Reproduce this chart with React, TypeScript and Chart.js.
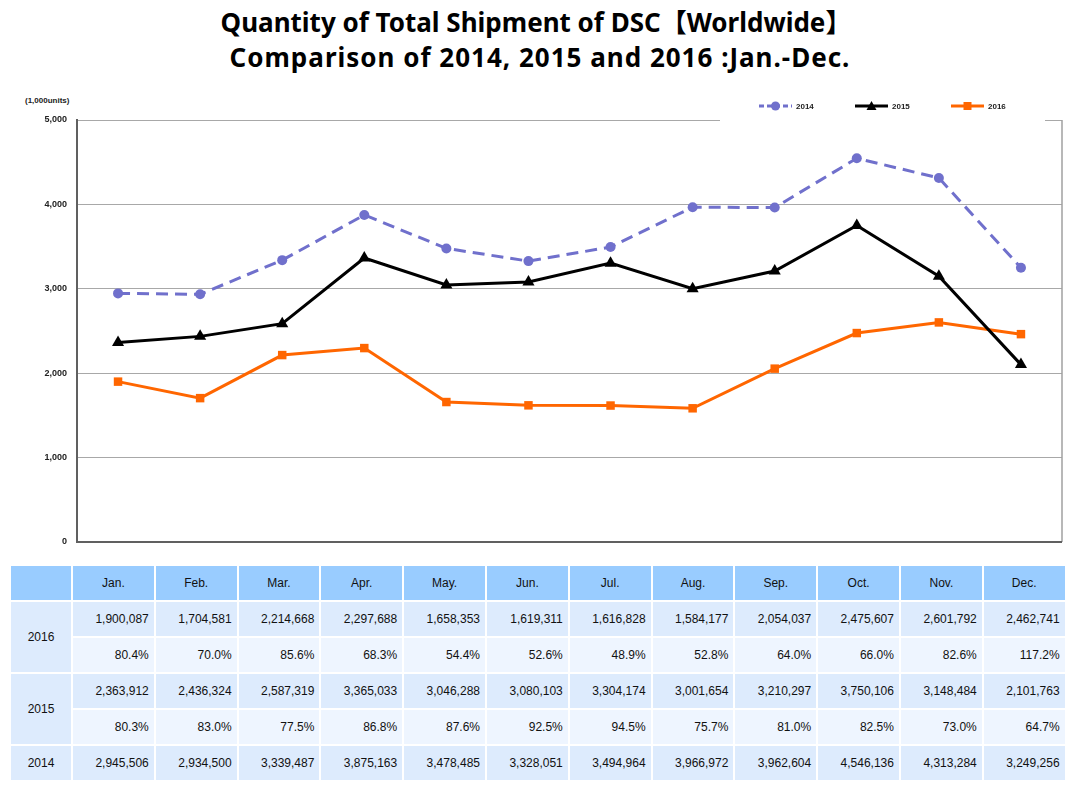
import React, { useEffect, useRef } from "react";
import { Chart, registerables } from "chart.js";

Chart.register(...registerables);

const titleLines = ["Quantity of Total Shipment of DSC【Worldwide】", "Comparison of 2014, 2015 and 2016 :Jan.-Dec."];
const unitLabel = "(1,000units)";
const months = ["Jan.", "Feb.", "Mar.", "Apr.", "May.", "Jun.", "Jul.", "Aug.", "Sep.", "Oct.", "Nov.", "Dec."];
const seriesNames = ["2014", "2015", "2016"];
const ship2016 = [1900087, 1704581, 2214668, 2297688, 1658353, 1619311, 1616828, 1584177, 2054037, 2475607, 2601792, 2462741];
const pct2016 = ["80.4%", "70.0%", "85.6%", "68.3%", "54.4%", "52.6%", "48.9%", "52.8%", "64.0%", "66.0%", "82.6%", "117.2%"];
const ship2015 = [2363912, 2436324, 2587319, 3365033, 3046288, 3080103, 3304174, 3001654, 3210297, 3750106, 3148484, 2101763];
const pct2015 = ["80.3%", "83.0%", "77.5%", "86.8%", "87.6%", "92.5%", "94.5%", "75.7%", "81.0%", "82.5%", "73.0%", "64.7%"];
const ship2014 = [2945506, 2934500, 3339487, 3875163, 3478485, 3328051, 3494964, 3966972, 3962604, 4546136, 4313284, 3249256];
const yTicks = [0, 1000, 2000, 3000, 4000, 5000];

const C2014 = "#7070CC";
const C2015 = "#000000";
const C2016 = "#FF6600";

const fmt = (n: number) => n.toLocaleString("en-US");

function drawMarker(ctx: CanvasRenderingContext2D, style: string, x: number, y: number, r: number, color: string) {
  ctx.fillStyle = color;
  ctx.beginPath();
  if (style === "circle") {
    ctx.arc(x, y, r, 0, Math.PI * 2);
  } else if (style === "triangle") {
    ctx.moveTo(x, y - r);
    ctx.lineTo(x + r, y + r * 0.8);
    ctx.lineTo(x - r, y + r * 0.8);
    ctx.closePath();
  } else {
    ctx.rect(x - r, y - r, 2 * r, 2 * r);
  }
  ctx.fill();
}

const framePlugin = {
  id: "frame",
  beforeDatasetsDraw(chart: any) {
    const { ctx, chartArea } = chart;
    ctx.save();
    ctx.strokeStyle = "#A0A0A0";
    ctx.lineWidth = 1.5;
    ctx.beginPath();
    ctx.moveTo(chartArea.right, chartArea.top);
    ctx.lineTo(chartArea.right, chartArea.bottom);
    ctx.stroke();
    ctx.strokeStyle = "#606060";
    ctx.lineWidth = 2;
    ctx.beginPath();
    ctx.moveTo(chartArea.left, chartArea.bottom);
    ctx.lineTo(chartArea.right, chartArea.bottom);
    ctx.stroke();
    // white legend box covering the top border
    ctx.fillStyle = "#FFFFFF";
    ctx.fillRect(720, chartArea.top - 12, 1045 - 720, 15);
    ctx.restore();
  },
  afterDraw(chart: any) {
    const { ctx } = chart;
    const items = [
      { name: seriesNames[0], color: C2014, style: "circle", x: 759, dash: [5, 3], r: 4.5 },
      { name: seriesNames[1], color: C2015, style: "triangle", x: 855, dash: [], r: 5 },
      { name: seriesNames[2], color: C2016, style: "square", x: 951, dash: [], r: 4 },
    ];
    const y = 16;
    ctx.save();
    for (const it of items) {
      ctx.strokeStyle = it.color;
      ctx.lineWidth = 3;
      ctx.setLineDash(it.dash);
      ctx.beginPath();
      ctx.moveTo(it.x, y);
      ctx.lineTo(it.x + 33, y);
      ctx.stroke();
      ctx.setLineDash([]);
      drawMarker(ctx, it.style, it.x + 16.5, y, it.r, it.color);
      ctx.fillStyle = "#222";
      ctx.font = "bold 8px 'Liberation Sans', Arial, sans-serif";
      ctx.textBaseline = "middle";
      ctx.textAlign = "left";
      ctx.fillText(it.name, it.x + 37, y + 0.5);
    }
    ctx.restore();
  },
};

function LineChart() {
  const ref = useRef<HTMLCanvasElement | null>(null);
  useEffect(() => {
    if (!ref.current) return;
    const k = (arr: number[]) => arr.map((v) => v / 1000);
    const chart = new Chart(ref.current, {
      type: "line",
      data: {
        labels: months,
        datasets: [
          {
            label: seriesNames[0],
            data: k(ship2014),
            borderColor: C2014,
            backgroundColor: C2014,
            borderWidth: 3,
            borderDash: [12, 7],
            pointStyle: "circle",
            pointRadius: 5,
            pointBorderWidth: 0,
            tension: 0,
          },
          {
            label: seriesNames[1],
            data: k(ship2015),
            borderColor: C2015,
            backgroundColor: C2015,
            borderWidth: 3,
            pointStyle: "triangle",
            pointRadius: 7,
            pointBorderWidth: 0,
            tension: 0,
          },
          {
            label: seriesNames[2],
            data: k(ship2016),
            borderColor: C2016,
            backgroundColor: C2016,
            borderWidth: 3,
            pointStyle: "rect",
            pointRadius: 6,
            pointBorderWidth: 0,
            tension: 0,
          },
        ],
      },
      options: {
        responsive: false,
        animation: false,
        layout: { padding: { left: 0, right: 18, top: 30, bottom: 18 } },
        plugins: { legend: { display: false }, tooltip: { enabled: false }, title: { display: false } },
        scales: {
          x: { display: false, offset: true },
          y: {
            min: 0,
            max: 5000,
            afterBuildTicks: (scale: any) => {
              scale.ticks = yTicks.map((v) => ({ value: v }));
            },
            afterFit: (scale: any) => {
              scale.width = 77;
            },
            ticks: {
              color: "#222",
              font: { family: "'Liberation Sans', Arial, sans-serif", size: 9, weight: "bold" },
              padding: 10,
              callback: (v: any) => fmt(Number(v)),
            },
            grid: { color: "#A8A8A8", lineWidth: 1, drawTicks: false },
            border: { color: "#606060", width: 2 },
          },
        },
      },
      plugins: [framePlugin],
    } as any);
    return () => chart.destroy();
  }, []);
  return <canvas ref={ref} width={1080} height={470} style={{ position: "absolute", left: 0, top: 90, width: 1080, height: 470 }} />;
}

const cellBase: React.CSSProperties = {
  display: "flex",
  alignItems: "center",
  fontFamily: "'Liberation Sans', Arial, sans-serif",
  fontSize: 12,
  color: "#111",
};

function DataTable() {
  const HEAD = "#99CCFF";
  const VAL = "#DDEBFD";
  const PCT = "#EEF5FF";
  const cells: React.ReactNode[] = [];
  const push = (key: string, text: string, col: number, row: number, bg: string, align: string, rowSpan = 1) => {
    cells.push(
      <div
        key={key}
        style={{
          ...cellBase,
          gridColumn: `${col} / span 1`,
          gridRow: `${row} / span ${rowSpan}`,
          background: bg,
          justifyContent: align,
          paddingRight: align === "flex-end" ? 5 : 0,
        }}
      >
        {text}
      </div>
    );
  };
  push("h0", "", 1, 1, HEAD, "center");
  months.forEach((m, i) => push("h" + m, m, i + 2, 1, HEAD, "center"));
  push("y2016", seriesNames[2], 1, 2, VAL, "center", 2);
  ship2016.forEach((v, i) => push("a" + i, fmt(v), i + 2, 2, VAL, "flex-end"));
  pct2016.forEach((v, i) => push("b" + i, v, i + 2, 3, PCT, "flex-end"));
  push("y2015", seriesNames[1], 1, 4, VAL, "center", 2);
  ship2015.forEach((v, i) => push("c" + i, fmt(v), i + 2, 4, VAL, "flex-end"));
  pct2015.forEach((v, i) => push("d" + i, v, i + 2, 5, PCT, "flex-end"));
  push("y2014", seriesNames[0], 1, 6, VAL, "center");
  ship2014.forEach((v, i) => push("e" + i, fmt(v), i + 2, 6, VAL, "flex-end"));
  return (
    <div
      style={{
        position: "absolute",
        left: 11,
        top: 566,
        display: "grid",
        gridTemplateColumns: "60px repeat(12, 80.8px)",
        gridTemplateRows: "34px repeat(5, 34px)",
        columnGap: 2,
        rowGap: 2,
      }}
    >
      {cells}
    </div>
  );
}

export default function App() {
  return (
    <div style={{ position: "relative", width: 1080, height: 789, margin: -8, background: "#fff", overflow: "hidden" }}>
      <div
        style={{
          position: "absolute",
          left: 0,
          top: 5,
          width: 1080,
          textAlign: "center",
          fontFamily: "'Noto Sans', 'Noto Sans CJK JP', sans-serif",
          fontWeight: "bold",
          fontSize: 26,
          letterSpacing: 1,
          lineHeight: "35px",
          color: "#000",
        }}
      >
        <div style={{ marginLeft: -8, letterSpacing: 0 }}>{titleLines[0]}</div>
        <div>{titleLines[1]}</div>
      </div>
      <div
        style={{
          position: "absolute",
          left: 25,
          top: 96,
          fontFamily: "'Liberation Sans', Arial, sans-serif",
          fontSize: 8,
          fontWeight: "bold",
          color: "#222",
        }}
      >
        {unitLabel}
      </div>
      <LineChart />
      <DataTable />
    </div>
  );
}
